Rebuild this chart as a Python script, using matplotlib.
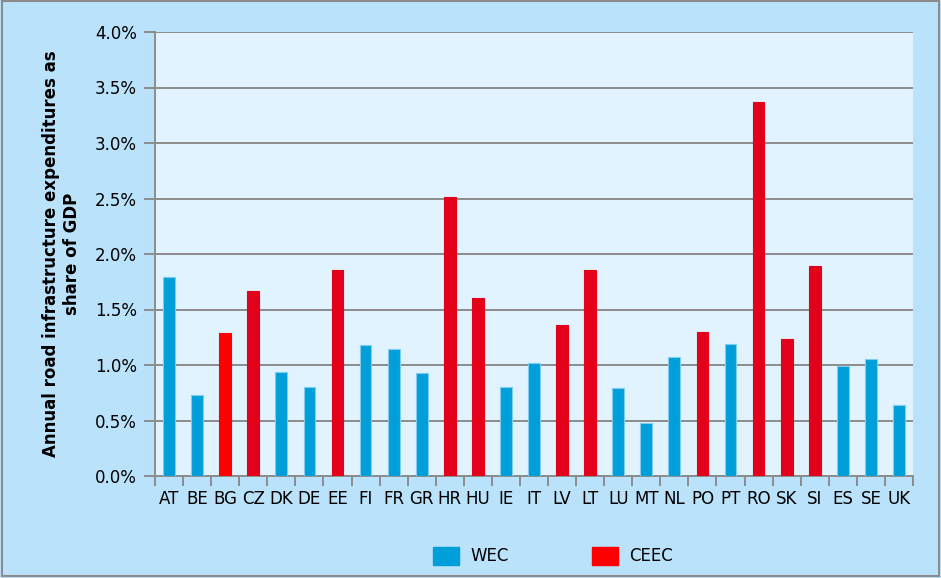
import matplotlib.pyplot as plt
import matplotlib.patches as mpatches
import numpy as np

# countries and road infrastructure spending (% of GDP)
paises = ["AT", "BE", "BG", "CZ", "DK", "DE", "EE", "FI", "FR", "GR", "HR", "HU", "IE", "IT",
          "LV", "LT", "LU", "MT", "NL", "PO", "PT", "RO", "SK", "SI", "ES", "SE", "UK"]
gasto = [1.79, 0.73, 1.29, 1.67, 0.94, 0.80, 1.86, 1.18, 1.14, 0.93, 2.51, 1.60, 0.80, 1.02,
         1.36, 1.86, 0.79, 0.48, 1.07, 1.30, 1.19, 3.37, 1.23, 1.89, 0.99, 1.05, 0.64]
grupo = ["W", "W", "C", "C", "W", "W", "C", "W", "W", "W", "C", "C", "W", "W",
         "C", "C", "W", "W", "W", "C", "W", "C", "C", "C", "W", "W", "W"]

azul = "#009FDA"
rojo = "#E2001A"
rojo_claro = "#FF0000"

colores = []
for p, g in zip(paises, grupo):
    if g == "W":
        colores.append(azul)
    elif p == "BG":
        colores.append(rojo_claro)
    else:
        colores.append(rojo)

fig = plt.figure(figsize=(9.41, 5.78), dpi=100)
fig.patch.set_facecolor("#BAE3FB")
ax = fig.add_axes([155/941, 1-476/578, (913-155)/941, (476-32)/578])
ax.set_facecolor("#E1F3FE")

x = np.arange(len(paises))
ax.bar(x, gasto, width=0.42, color=colores, edgecolor=["#7FCDEF" if g == "W" else c for g, c in zip(grupo, colores)],
       linewidth=0.8, zorder=3)

ax.set_xlim(-0.5, len(paises) - 0.5)
ax.set_ylim(0, 4.0)
ax.set_yticks(np.arange(0, 4.01, 0.5))
ax.set_yticklabels(["%.1f%%" % v for v in np.arange(0, 4.01, 0.5)], fontsize=12)
ax.yaxis.grid(True, color="#8C8C8C", linewidth=1.4, zorder=1)
ax.set_axisbelow(True)

ax.set_xticks(x)
ax.set_xticklabels(paises, fontsize=12)
ax.set_xticks(np.arange(-0.5, len(paises)), minor=True)
ax.tick_params(axis="x", which="major", length=0, pad=10)
ax.tick_params(axis="x", which="minor", length=7, width=1.4, color="#8C8C8C")
ax.tick_params(axis="y", length=8, width=1.4, color="#8C8C8C", pad=5)

for s in ["top", "right"]:
    ax.spines[s].set_visible(False)
for s in ["left", "bottom"]:
    ax.spines[s].set_color("#8C8C8C")
    ax.spines[s].set_linewidth(1.4)

ax.set_ylabel("Annual road infrastructure expenditures as\nshare of GDP", fontsize=12,
              fontweight="semibold", labelpad=10)

h1 = mpatches.Patch(color=azul, label="WEC")
h2 = mpatches.Patch(color=rojo_claro, label="CEEC")
fig.legend(handles=[h1, h2], loc="center", bbox_to_anchor=(553/941, 1-556/578), ncol=2,
           frameon=False, fontsize=12, handlelength=1.55, handleheight=1.3, columnspacing=5.0,
           handletextpad=0.7)

fig.add_artist(mpatches.Rectangle((0.002, 0.003), 0.996, 0.995, transform=fig.transFigure,
                                  fill=False, edgecolor="#8C8C8C", linewidth=1.5))

plt.savefig("out.png", dpi=100, facecolor=fig.get_facecolor())
